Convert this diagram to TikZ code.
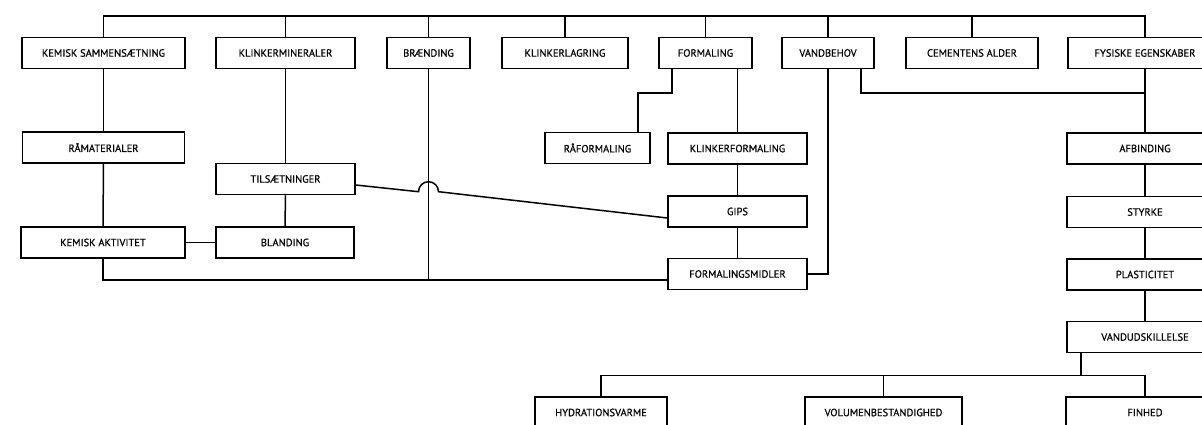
\documentclass[tikz,border=0pt]{standalone}
\usepackage{fontspec}
\setmainfont{PT Sans}
\newfontfamily\bxfont[FakeBold=0.6]{PT Sans}
\tikzset{%
   bx/.style={
      draw,
      rectangle,
      inner sep=0pt,
      minimum height=31pt,
      font=\bxfont\fontsize{10.5}{12}\selectfont
   },
}

\begin{document}
\begin{tikzpicture}[x=1pt, y=-1pt, line width=1.5pt]
   \useasboundingbox (0,0) rectangle (1202,425);
   \coordinate (hi) at (0,16);
   \coordinate (lo) at (0,280);
   \coordinate (lo2) at (0,375.5);
   % first row
   \node[bx, minimum width=163pt] (ks) at (103.5,53) {KEMISK SAMMENSÆTNING};
   \node[bx, minimum width=139pt] (km) at (285.5,53) {KLINKERMINERALER};
   \node[bx, minimum width=83pt] (br) at (428.5,53) {BRÆNDING};
   \node[bx, minimum width=126pt] (kl) at (565,53) {KLINKERLAGRING};
   \node[bx, minimum width=93pt] (fo) at (705.5,53) {FORMALING};
   \node[bx, minimum width=92pt] (vb) at (828,53) {VANDBEHOV};
   \node[bx, minimum width=132pt] (ca) at (972,53) {CEMENTENS ALDER};
   \node[bx, minimum width=154pt] (fe) at (1145,53) {FYSISKE EGENSKABER};
   % left part
   \node[bx, minimum width=162pt] (ra) at (103.5,147.5) {RÅMATERIALER};
   \node[bx, minimum width=139pt] (ti) at (285.5,179) {TILSÆTNINGER};
   \node[bx, minimum width=138pt] (bl) at (285,242.5) {BLANDING};
   \node[bx, minimum width=164pt] (ka) at (103,242.5) {KEMISK AKTIVITET};
   % middle part
   \node[bx, minimum width=105pt] (rf) at (597.5,148) {RÅFORMALING};
   \node[bx, minimum width=139pt] (kf) at (737.5,148.5) {KLINKERFORMALING};
   \node[bx, minimum width=139pt] (gi) at (737.5,211.5) {GIPS};
   \node[bx, minimum width=139pt] (fm) at (737.5,274) {FORMALINGSMIDLER};
   % right part
   \node[bx, minimum width=156pt] (af) at (1145,148.5) {AFBINDING};
   \node[bx, minimum width=156pt] (st) at (1145,212) {STYRKE};
   \node[bx, minimum width=156pt] (pl) at (1145,274.5) {PLASTICITET};
   \node[bx, minimum width=156pt] (vu) at (1145,337) {VANDUDSKILLELSE};
   \node[bx, minimum width=132pt] (hv) at (601,412.5) {HYDRATIONSVARME};
   \node[bx, minimum width=157pt] (vo) at (883.5,412.5) {VOLUMENBESTANDIGHED};
   \node[bx, minimum width=158pt] (fi) at (1145,412.5) {FINHED};

   % top bus
   \draw (ks.north) |- (fe.north |- hi) -- (fe.north);
   \foreach \n in {km,br,kl,fo,vb,ca}
      \draw (\n.north) -- (\n.north |- hi);

   \draw (ks.south) -- (ra.north);
   \draw (ra.south) -- (ka.north);
   \draw (km.south) -- (ti.north);
   \draw (ti.south) -- (bl.north);
   \draw (bl.west) -- (ka.east);
   \draw (ka.south) |- (fm.west |- lo);
   \draw (br.south) -- (br.south |- lo);
   % line with hop over braending
   \coordinate (hp) at (418.5,191.7);
   \draw ([yshift=-6pt]ti.east) -- (hp)
      arc[start angle=180, end angle=360, radius=10]
      -- ([yshift=-6.5pt]gi.west);

   \draw ([xshift=-33.5pt]fo.south) -- ++(0,24) -| ([xshift=40.5pt]rf.north);
   \draw (kf.north |- fo.south) -- (kf.north);
   \draw (kf.south) -- (gi.north);
   \draw (gi.south) -- (fm.north);
   \draw (fm.east) -| (vb.south);
   \draw ([xshift=33pt]vb.south) -- ++(0,24) -| (fe.south);

   \draw (fe.south) -- (af.north);
   \draw (af.south) -- (st.north);
   \draw (st.south) -- (pl.north);
   \draw (pl.south) -- (vu.north);
   % bottom bus
   \draw ([xshift=-64pt]vu.south) -- ([xshift=-64pt]vu.south |- lo2);
   \draw (hv.north) |- (fi.north |- lo2) -- (fi.north);
   \draw (vo.north) -- (vo.north |- lo2);
\end{tikzpicture}
\end{document}
